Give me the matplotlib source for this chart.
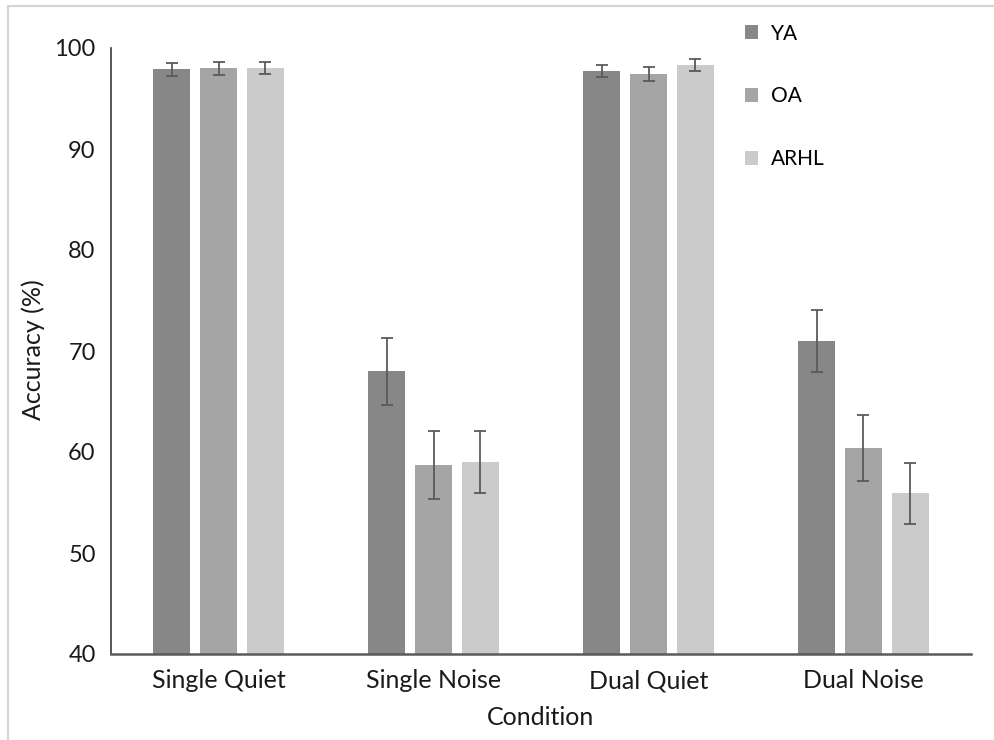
import matplotlib.pyplot as plt
from matplotlib.patches import Rectangle
import numpy as np

CONDITIONS = ['Single Quiet', 'Single Noise', 'Dual Quiet', 'Dual Noise']
GROUPS = ['YA', 'OA', 'ARHL']
YA_MEAN = [97.9, 68.0, 97.7, 71.0]
OA_MEAN = [98.0, 58.7, 97.4, 60.4]
ARHL_MEAN = [98.0, 59.0, 98.3, 55.9]
YA_ERR = [0.65, 3.3, 0.6, 3.1]
OA_ERR = [0.65, 3.4, 0.7, 3.3]
ARHL_ERR = [0.6, 3.05, 0.6, 3.05]
Y_TICKS = [40, 50, 60, 70, 80, 90, 100]

COLORS = ['#878787', '#a5a5a5', '#cbcbcb']
FONT = ['Lato', 'DejaVu Sans']


def main() -> None:
    plt.rcParams['font.family'] = FONT
    fig = plt.figure(figsize=(9.95, 7.4), dpi=100)

    # light grey frame round the chart (top and left visible)
    fig.add_artist(Rectangle((8 / 995, -0.01), 1.0, 1 - 6 / 740 + 0.01, transform=fig.transFigure,
                             fill=False, edgecolor='#d4d4d4', linewidth=1.5))

    ax = fig.add_axes([111 / 995, 1 - 654 / 740, (971 - 111) / 995, (654 - 48) / 740])

    means = [YA_MEAN, OA_MEAN, ARHL_MEAN]
    errs = [YA_ERR, OA_ERR, ARHL_ERR]
    x = np.arange(len(CONDITIONS))
    width = 0.175
    step = 0.218
    for i, name in enumerate(GROUPS):
        pos = x + (i - 1) * step
        ax.bar(pos, np.array(means[i]) - 40, width, bottom=40, color=COLORS[i], label=name, zorder=2)
        ax.errorbar(pos, means[i], yerr=errs[i], fmt='none', ecolor='#5a5a5a', elinewidth=1.3,
                    capsize=4.5, capthick=1.3, zorder=3)

    ax.set_xlim(-0.5, len(CONDITIONS) - 0.5)
    ax.set_ylim(40, 100)
    ax.set_yticks(Y_TICKS)
    ax.set_xticks(x)
    ax.set_xticklabels(CONDITIONS, fontsize=18)
    ax.tick_params(axis='y', length=0, pad=11, labelsize=17, colors='#1a1a1a')
    ax.tick_params(axis='x', length=0, pad=11, colors='#1a1a1a')

    for side in ['top', 'right']:
        ax.spines[side].set_visible(False)
    ax.spines['left'].set_color('#3a3a3a')
    ax.spines['bottom'].set_color('#5a5a5a')
    ax.spines['left'].set_linewidth(1.2)
    ax.spines['bottom'].set_linewidth(1.8)

    ax.set_xlabel('Condition', fontsize=18, labelpad=10, color='#1a1a1a')
    fig.text(33 / 995, 1 - 350 / 740, 'Accuracy (%)', rotation=90, fontsize=18,
             ha='center', va='center', color='#1a1a1a')

    ax.legend(loc='upper left', bbox_to_anchor=(726 / 995, 1 - 5 / 740), bbox_transform=fig.transFigure,
              frameon=False, fontsize=15, handlelength=0.65, handleheight=0.65, labelspacing=2.05,
              handletextpad=0.6)

    fig.savefig('out.png', dpi=100)


if __name__ == '__main__':
    main()
